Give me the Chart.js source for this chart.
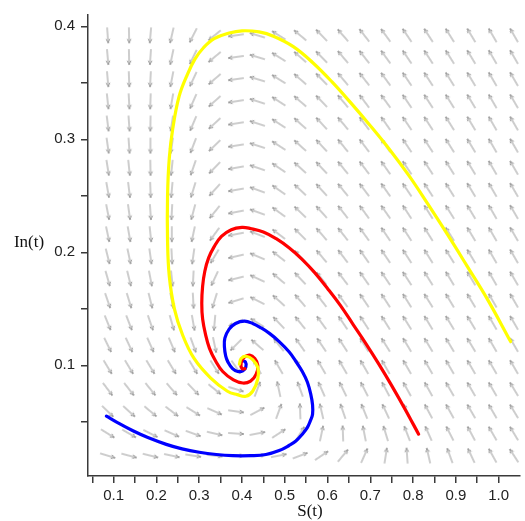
<!DOCTYPE html>
<html><head><meta charset="utf-8">
<script src="https://cdn.jsdelivr.net/npm/chart.js@4.4.1/dist/chart.umd.min.js"></script>
<style>html,body{margin:0;padding:0;background:#fff;}#wrap{width:525px;height:521px;position:relative;}</style>
</head><body><div id="wrap"><canvas id="c" width="525" height="521"></canvas></div>
<script>
// ---- tick values ----
const xTickValues = [0.1,0.2,0.3,0.4,0.5,0.6,0.7,0.8,0.9,1.0];
const xMinorValues = [0.05,0.15,0.25,0.35,0.45,0.55,0.65,0.75,0.85,0.95];
const yTickValues = [0.1,0.2,0.3,0.4];
const yMinorValues = [0.05,0.15,0.25,0.35];
const xTitle = "S(t)";
const yTitle = "In(t)";

// ---- direction field: arrow grid (S columns, In rows) and arrow angles (degrees, counter-clockwise) ----
const fieldS = [0.086,0.136,0.186,0.236,0.286,0.336,0.386,0.436,0.486,0.536,0.586,0.636,0.686,0.736,0.786,0.836,0.886,0.936,0.986,1.036];
const fieldI = [0.020,0.0396,0.0592,0.0788,0.0984,0.118,0.1376,0.1572,0.1768,0.1964,0.216,0.2356,0.2552,0.2748,0.2944,0.314,0.3336,0.3532,0.3728,0.392];
const fieldAngle = [
 [-17,-15,-14,-12,-9,-6,-1,4,11,21,34,50,66,81,94,103,110,115,119,123],
 [-32,-30,-27,-24,-20,-13,-4,11,33,58,78,92,101,107,111,114,117,118,120,121],
 [-44,-42,-40,-37,-32,-24,-8,28,70,92,103,109,112,115,116,118,119,120,120,121],
 [-53,-52,-51,-49,-46,-39,-17,69,102,110,114,116,117,118,119,119,120,120,120,121],
 [-59,-59,-59,-59,-59,-58,-55,118,120,120,120,120,120,120,120,120,120,120,120,120],
 [-64,-65,-66,-67,-70,-78,-135,139,129,125,124,123,122,122,121,121,121,121,120,120],
 [-68,-69,-71,-74,-80,-95,-156,148,134,129,126,124,123,122,122,121,121,121,120,120],
 [-71,-73,-76,-79,-87,-107,-163,153,138,131,128,126,124,123,122,122,121,121,120,120],
 [-74,-76,-79,-84,-93,-115,-166,155,140,133,129,127,125,124,123,122,121,121,120,120],
 [-76,-78,-82,-87,-98,-121,-167,157,142,134,130,127,125,124,123,122,122,121,120,120],
 [-78,-80,-84,-90,-102,-126,-169,159,143,135,131,128,126,124,123,122,122,121,120,120],
 [-79,-82,-86,-93,-105,-129,-169,160,144,136,132,128,126,125,123,122,122,121,120,120],
 [-80,-83,-88,-95,-107,-132,-170,160,145,137,132,129,127,125,124,123,122,121,120,120],
 [-81,-84,-89,-96,-109,-134,-170,161,146,138,133,129,127,125,124,123,122,121,120,120],
 [-82,-86,-90,-98,-111,-136,-171,162,147,138,133,129,127,125,124,123,122,121,120,120],
 [-83,-86,-91,-99,-113,-137,-171,162,147,138,133,130,127,125,124,123,122,121,120,120],
 [-84,-87,-92,-100,-114,-138,-171,162,147,139,134,130,127,126,124,123,122,121,120,120],
 [-85,-88,-93,-101,-115,-139,-172,163,148,139,134,130,128,126,124,123,122,121,120,120],
 [-85,-89,-94,-102,-116,-140,-172,163,148,139,134,130,128,126,124,123,122,121,120,120],
 [-86,-89,-95,-103,-117,-141,-172,163,148,140,134,131,128,126,124,123,122,121,120,120]
];

// ---- trajectories ----
const yellowS = [1.028,0.973,0.926,0.88,0.834,0.79,0.745,0.70,0.655,0.61,0.565,0.52,0.475,0.44,0.40,0.37,0.335,0.31,0.29,0.273,0.253,0.238,0.230,0.226,0.226,0.230,0.242,0.261,0.288,0.327,0.366,0.389,0.409,0.425,0.437,0.437,0.425,0.41,0.398,0.394];
const yellowI = [0.121,0.159,0.188,0.216,0.243,0.268,0.291,0.312,0.332,0.351,0.368,0.382,0.391,0.395,0.396,0.394,0.389,0.381,0.371,0.358,0.338,0.309,0.283,0.250,0.210,0.179,0.150,0.127,0.106,0.0886,0.077,0.074,0.0726,0.077,0.088,0.098,0.105,0.108,0.106,0.101];
const redS = [0.813,0.78,0.75,0.72,0.69,0.66,0.63,0.60,0.57,0.54,0.51,0.48,0.45,0.42,0.40,0.375,0.352,0.335,0.322,0.313,0.308,0.306,0.308,0.315,0.324,0.338,0.355,0.38,0.402,0.42,0.433,0.437,0.43,0.418,0.405,0.398,0.40,0.407];
const redI = [0.039,0.062,0.082,0.101,0.119,0.136,0.153,0.168,0.182,0.194,0.204,0.212,0.218,0.221,0.222,0.220,0.214,0.205,0.195,0.183,0.170,0.155,0.141,0.127,0.115,0.104,0.0945,0.087,0.0843,0.086,0.092,0.100,0.106,0.109,0.107,0.102,0.097,0.097];
const blueS = [0.083,0.11,0.145,0.18,0.223,0.26,0.30,0.34,0.378,0.42,0.456,0.487,0.51,0.526,0.541,0.553,0.56,0.565,0.565,0.561,0.553,0.541,0.525,0.51,0.487,0.465,0.445,0.425,0.406,0.385,0.370,0.360,0.359,0.362,0.367,0.378,0.390,0.402,0.409,0.408,0.40];
const blueI = [0.055,0.049,0.042,0.036,0.030,0.026,0.023,0.021,0.020,0.020,0.021,0.0245,0.029,0.033,0.039,0.045,0.051,0.0566,0.065,0.074,0.085,0.0945,0.104,0.112,0.121,0.128,0.133,0.137,0.139,0.137,0.132,0.124,0.116,0.108,0.103,0.097,0.0945,0.095,0.0985,0.103,0.104];

// ---- build ----
const arrowImg = document.createElement('canvas');
arrowImg.width = 18; arrowImg.height = 8;
(function(){
  const a = arrowImg.getContext('2d');
  a.strokeStyle = '#9c9c9c'; a.lineWidth = 1; a.lineCap = 'round';
  a.beginPath();
  a.moveTo(1.5,4); a.lineTo(16.5,4);
  a.moveTo(16.5,4); a.lineTo(13,2.3);
  a.moveTo(16.5,4); a.lineTo(13,5.7);
  a.stroke();
})();

const fieldData = [];
fieldI.forEach((iv, j) => fieldS.forEach((sv, k) => fieldData.push({x: sv, y: iv, a: fieldAngle[j][k]})));
const pts = (S, I) => S.map((s, n) => ({x: s, y: I[n]}));
const curve = (S, I, color) => ({
  data: pts(S, I), showLine: true, borderColor: color, backgroundColor: color,
  borderWidth: 3.2, pointRadius: 0, tension: 0.4, fill: false,
  borderCapStyle: 'round', borderJoinStyle: 'round', order: 1
});

const xMajor = new Set(xTickValues), yMajor = new Set(yTickValues);
const axisColor = '#3a3a3a';

const titlesPlugin = {
  id: 'titles',
  afterDraw(chart) {
    const ctx = chart.ctx;
    ctx.save();
    ctx.fillStyle = '#111';
    ctx.font = '17px "Liberation Serif", "Times New Roman", serif';
    ctx.textAlign = 'center'; ctx.textBaseline = 'middle';
    ctx.fillText(yTitle, 29, 243);
    ctx.fillText(xTitle, 310, 512);
    ctx.restore();
  }
};

new Chart(document.getElementById('c'), {
  type: 'scatter',
  data: {
    datasets: [
      curve(yellowS, yellowI, '#ffff00'),
      curve(redS, redI, '#ff0000'),
      curve(blueS, blueI, '#0000ff'),
      {
        data: fieldData, pointStyle: arrowImg, pointRadius: 3,
        rotation: (c) => (c.raw ? -c.raw.a : 0), order: 5
      }
    ]
  },
  options: {
    responsive: false, animation: false,
    layout: {padding: {top: 10, right: 4, left: 0, bottom: 0}},
    plugins: {legend: {display: false}, tooltip: {enabled: false}},
    scales: {
      x: {
        type: 'linear', min: 0.04, max: 1.05,
        afterBuildTicks: (s) => { s.ticks = [...xTickValues, ...xMinorValues].sort((p, q) => p - q).map(v => ({value: v})); },
        afterFit: (s) => { s.height = 45; },
        ticks: {
          autoSkip: false, maxRotation: 0, color: '#222', padding: 4,
          font: {family: "'Liberation Sans', Arial, sans-serif", size: 15},
          callback: (v) => xMajor.has(v) ? v.toFixed(1) : ''
        },
        grid: {drawOnChartArea: false, drawTicks: true, tickLength: 7, color: axisColor, lineWidth: 1.5},
        border: {display: true, color: axisColor, width: 1.5}
      },
      y: {
        type: 'linear', min: 0.002, max: 0.41,
        afterBuildTicks: (s) => { s.ticks = [...yTickValues, ...yMinorValues].sort((p, q) => p - q).map(v => ({value: v})); },
        afterFit: (s) => { s.width = 88; },
        ticks: {
          autoSkip: false, color: '#222', padding: 6,
          font: {family: "'Liberation Sans', Arial, sans-serif", size: 15},
          callback: (v) => yMajor.has(v) ? v.toFixed(1) : ''
        },
        grid: {drawOnChartArea: false, drawTicks: true, tickLength: 7, color: axisColor, lineWidth: 1.5},
        border: {display: true, color: axisColor, width: 1.5}
      }
    }
  },
  plugins: [titlesPlugin]
});
</script>
</body></html>
